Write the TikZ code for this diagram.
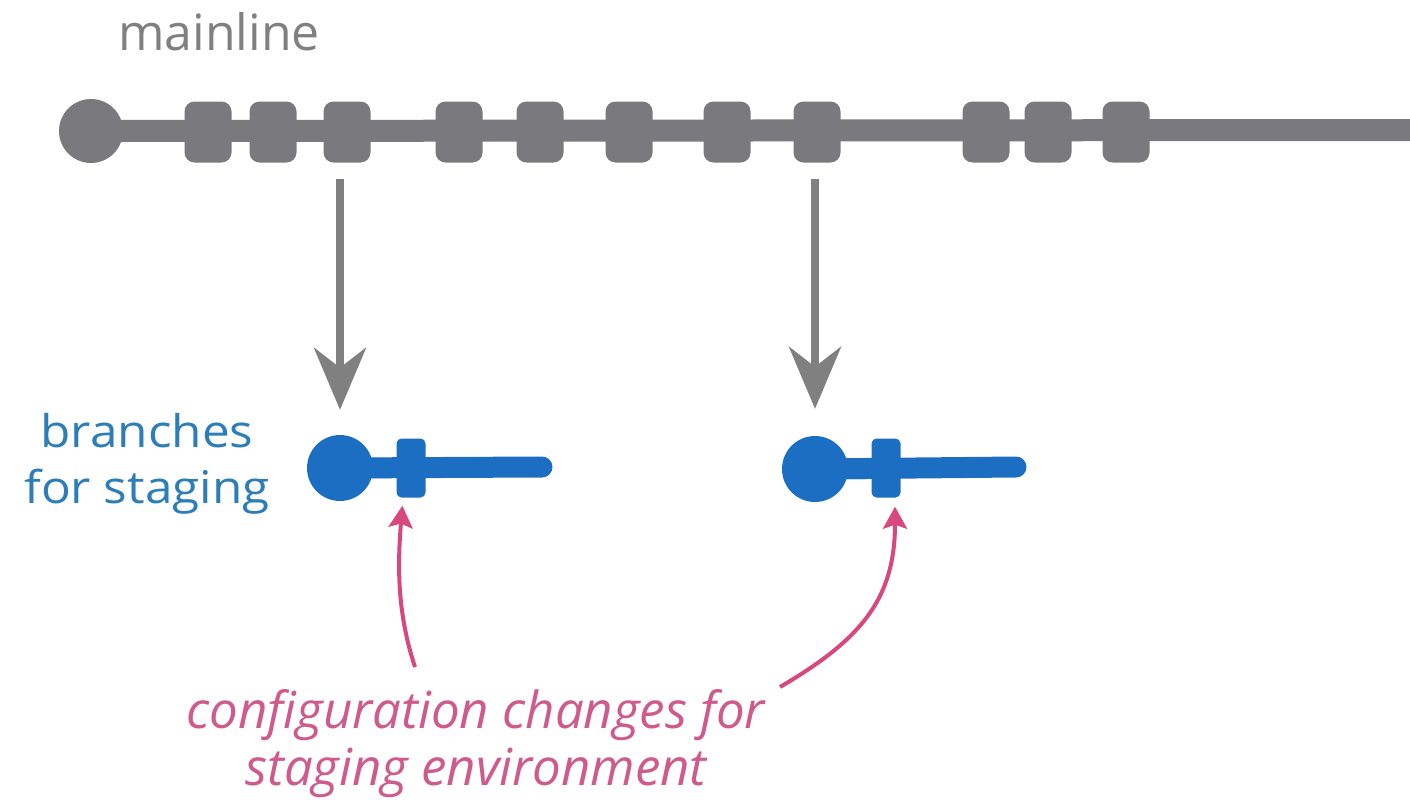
\documentclass[tikz,border=0pt]{standalone}
\usepackage{fontspec}
\setmainfont{Open Sans}
\usetikzlibrary{arrows.meta,backgrounds}
\definecolor{mgray}{HTML}{7A7A7E}
\definecolor{agray}{HTML}{808080}
\definecolor{tgray}{HTML}{808080}
\definecolor{bblue}{HTML}{1B6EC2}
\definecolor{tblue}{HTML}{2C7DB8}
\definecolor{pinkc}{HTML}{D8487F}
\definecolor{ptext}{HTML}{CF5A8C}
\begin{document}
\begin{tikzpicture}[x=1pt,y=-1pt,
  root/.style={circle, fill=mgray, minimum size=64pt, inner sep=0pt},
  commit/.style={rectangle, fill=mgray, rounded corners=10pt, minimum width=47pt, minimum height=61pt, inner sep=0pt},
  broot/.style={circle, fill=bblue, minimum size=66pt, inner sep=0pt},
  bcommit/.style={rectangle, fill=bblue, rounded corners=5pt, minimum width=29pt, minimum height=59pt, inner sep=0pt},
  mainl/.style={draw=mgray, line width=22pt},
  branchl/.style={draw=bblue, line width=21pt, line cap=round},
  garrow/.style={draw=agray, line width=8pt, -{Stealth[length=62pt,width=52pt,inset=20pt]}},
  parrow/.style={draw=pinkc, line width=4pt, -{Stealth[length=22pt,width=24pt,inset=4pt]}}]
\useasboundingbox (0,0) rectangle (1410,803);

% mainline
\node[root] (m0) at (91,131) {};
\foreach \i/\x in {1/208,2/273,3/347,4/459,5/540,6/629,7/727,8/817,9/986,10/1048,11/1126}
  \node[commit] (m\i) at (\x,132) {};
\coordinate (mend) at (1410,130);
\begin{scope}[on background layer]
  \draw[mainl] (m0.center) -- (mend);
\end{scope}
\node[text=tgray, font=\fontsize{50}{54}\selectfont, anchor=base west, inner sep=0pt] (ml) at (118,50) {mainline};

% branches
\node[broot] (b1) at (340,468) {};
\node[bcommit] (c1) at (411,468) {};
\coordinate (e1) at (542,467);
\node[broot] (b2) at (815,469) {};
\node[bcommit] (c2) at (886,468) {};
\coordinate (e2) at (1016,467);
\begin{scope}[on background layer]
  \draw[branchl] (b1.center) -- (e1);
  \draw[branchl] (b2.center) -- (e2);
  \fill[bblue] (b1.center) -- ([yshift=12pt]b1.center) to[out=-5,in=180] ([xshift=52pt,yshift=10pt]b1.center) -- ([xshift=52pt,yshift=-10pt]b1.center) to[out=180,in=5] ([yshift=-12pt]b1.center) -- cycle;
  \fill[bblue] (b2.center) -- ([yshift=12pt]b2.center) to[out=-5,in=180] ([xshift=52pt,yshift=10pt]b2.center) -- ([xshift=52pt,yshift=-10pt]b2.center) to[out=180,in=5] ([yshift=-12pt]b2.center) -- cycle;
\end{scope}
\node[text=tblue, anchor=base, inner sep=0pt] (bt) at (147,447)
  {\scalebox{1.1}[1]{\fontsize{45}{56}\selectfont\begin{tabular}[t]{@{}c@{}}branches\\for staging\end{tabular}}};

% gray arrows
\draw[garrow, shorten <=16pt, shorten >=25pt] (b1.north |- m3.south) -- (b1.north);
\draw[garrow, shorten <=16pt, shorten >=27pt] (b2.north |- m8.south) -- (b2.north);

% pink annotation
\node[text=ptext, font=\itshape\fontsize{51}{57}\selectfont, align=center, inner sep=0pt] (pt) at (476,744)
  {configuration changes for\\staging environment};
\coordinate (t1) at (415,667);
\coordinate (t2) at (780,687);
\draw[parrow, shorten >=8pt] (t1) .. controls (396,610) and (398,560) .. ([xshift=-8pt]c1.south);
\draw[parrow, shorten >=9pt] (t2) .. controls (860,640) and (895,600) .. ([xshift=9pt]c2.south);
\end{tikzpicture}
\end{document}
